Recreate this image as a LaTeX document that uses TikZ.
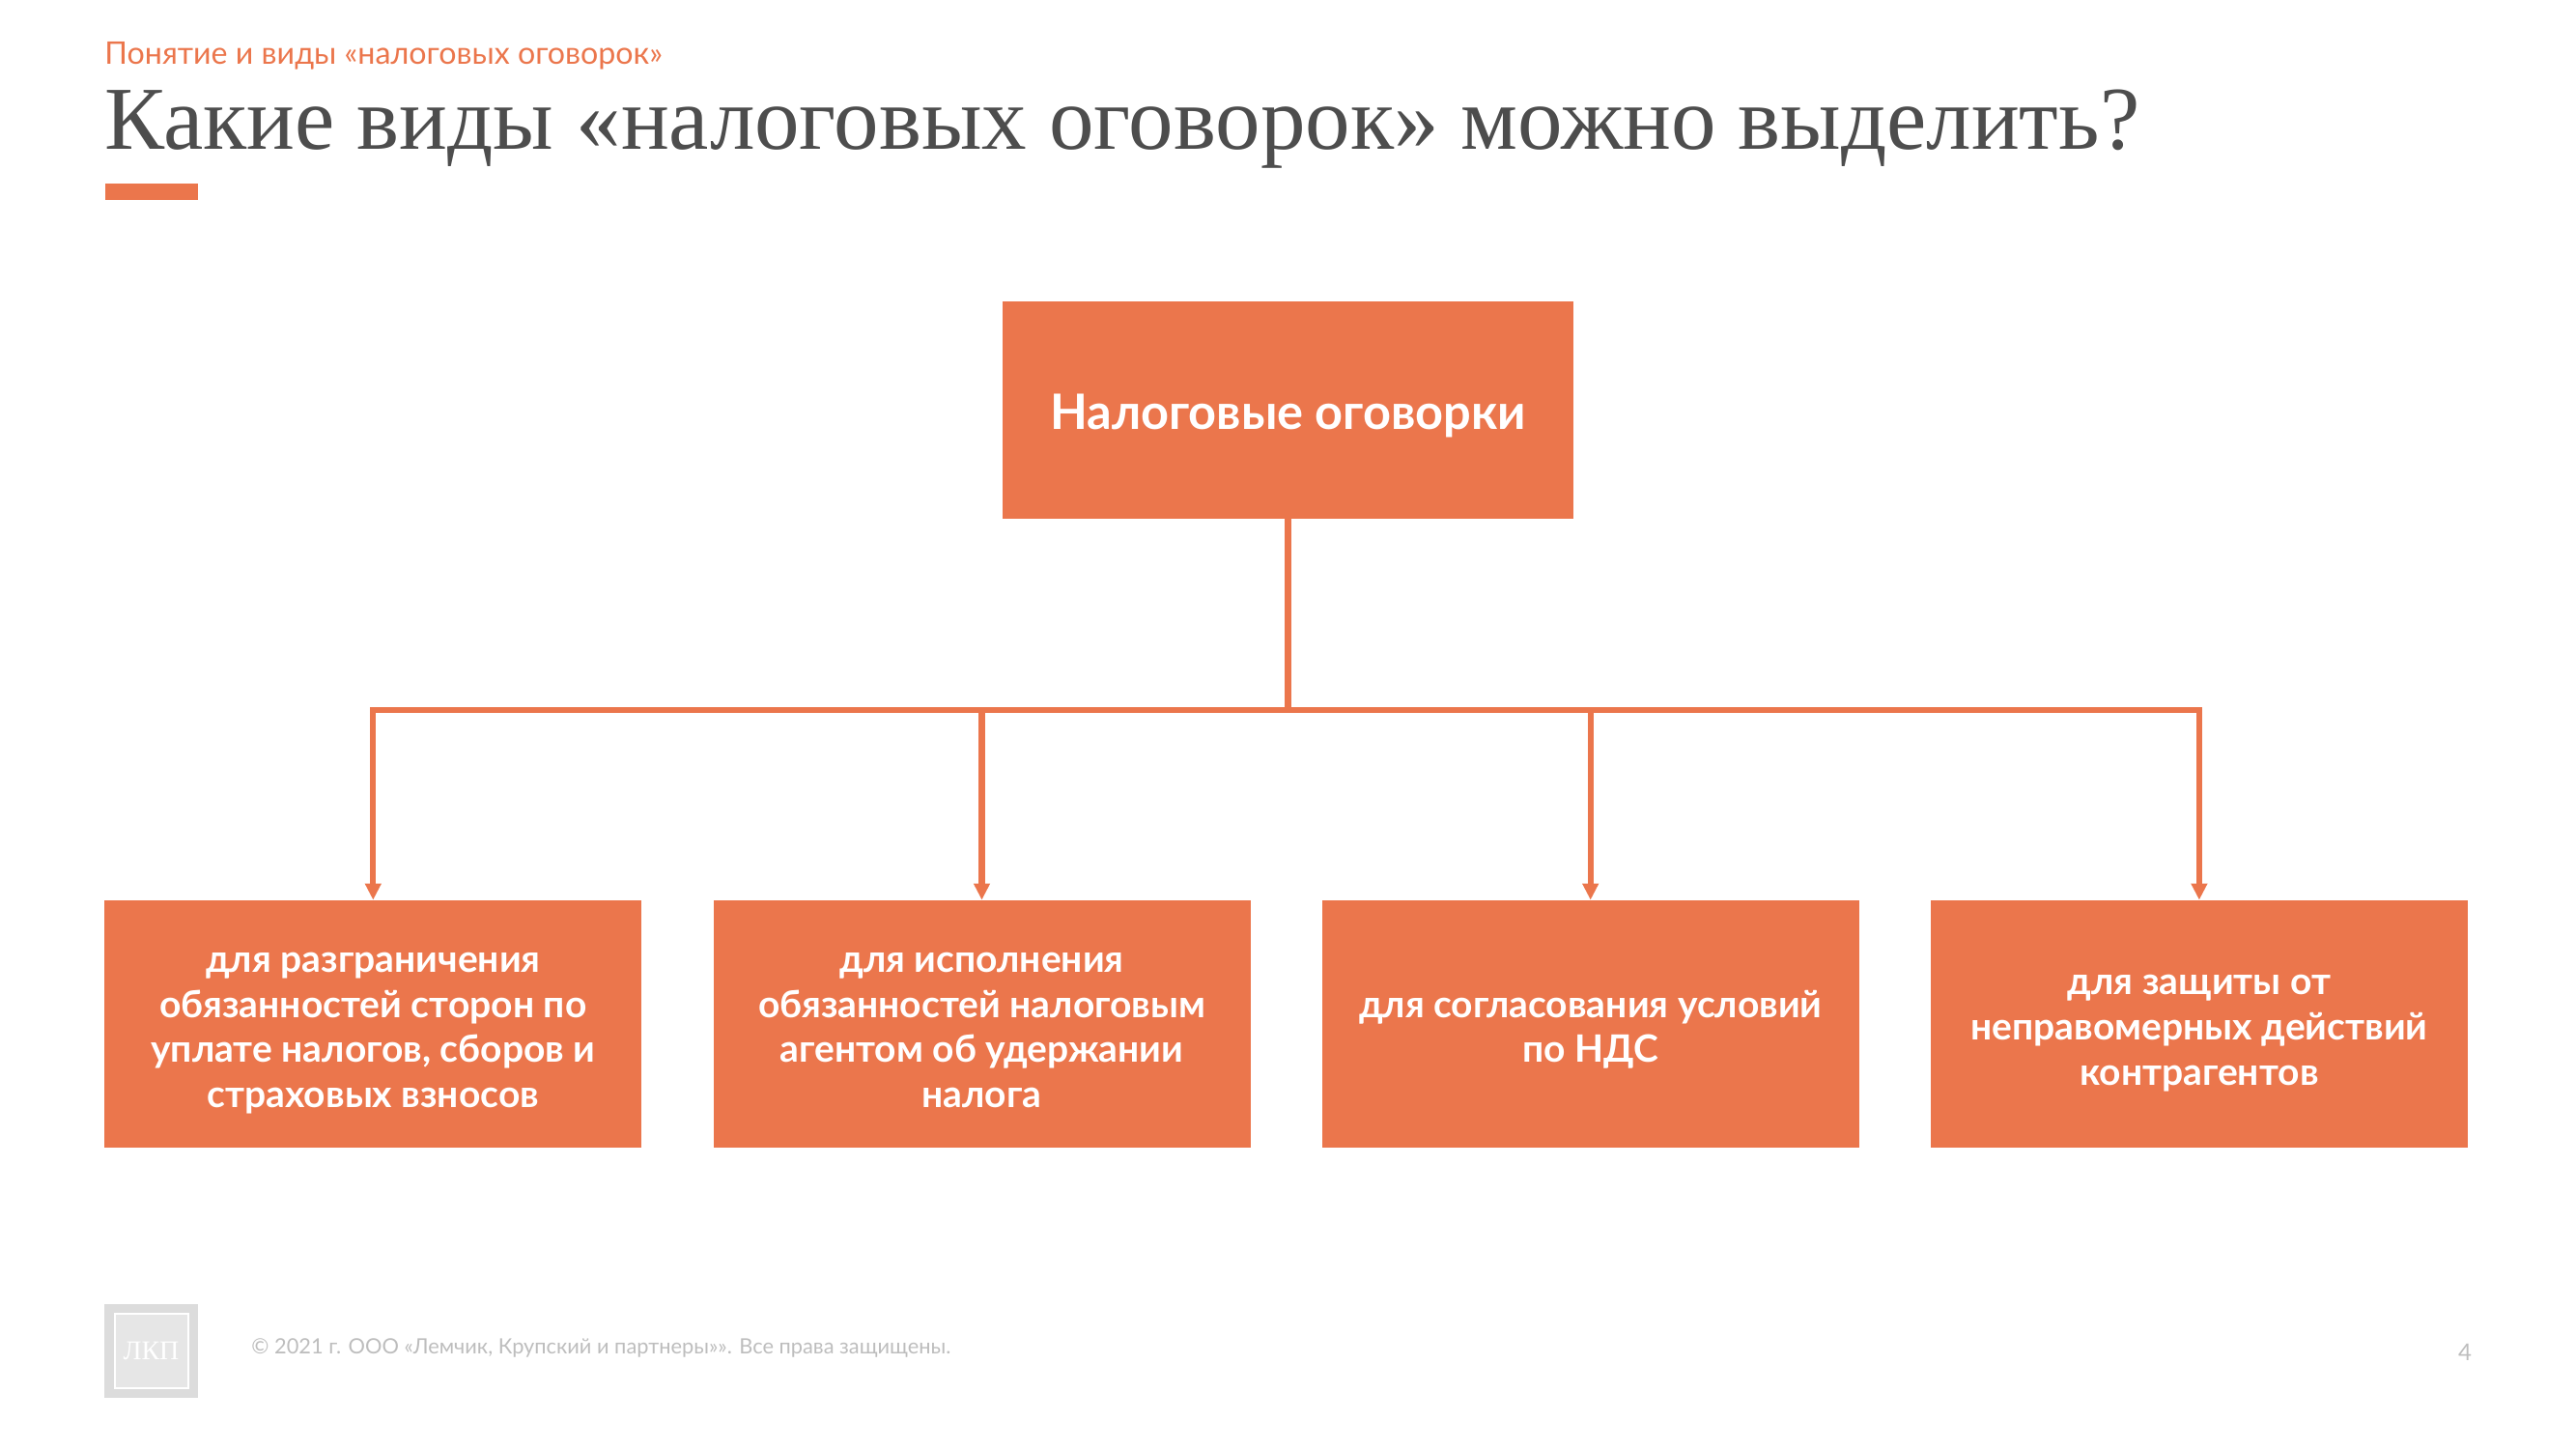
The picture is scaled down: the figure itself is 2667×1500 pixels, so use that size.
\documentclass[tikz,border=0pt]{standalone}
\usepackage{fontspec}
\setmainfont{Lato}
\newfontfamily\titlefont{Liberation Serif}
\usetikzlibrary{positioning,arrows.meta}
\definecolor{accent}{HTML}{EB764C}
\definecolor{titlegray}{HTML}{4D4D4D}
\definecolor{logogray}{HTML}{DCDCDC}
\definecolor{footgray}{HTML}{BDBDBD}
\newcommand{\leaftext}[1]{\rule{0pt}{22pt}#1\rule[-5.5pt]{0pt}{5.5pt}}
\tikzset{
	leafbox/.style={
			fill=accent,
			text=white,
			inner sep=0pt,
			align=center,
			minimum width=278pt,
			minimum height=128pt,
			font=\bfseries\fontsize{19.5}{23.35}\selectfont,
		},
	link/.style={draw=accent,line width=3.1pt},
}
\begin{document}
\begin{tikzpicture}[
				x=0.5pt,y=-0.5pt,
				every node/.style={anchor=center},]
			\useasboundingbox (0,0) rectangle (2667,1500);
			\node[anchor=west,inner sep=0pt,text=accent,font=\fontsize{16.1}{20}\selectfont] (section) at (108,58) {Понятие и виды «налоговых оговорок»};
			\node[anchor=west,inner sep=0pt,text=titlegray,font=\titlefont\fontsize{46.5}{55}\selectfont] (heading) at (108,134) {Какие виды «налоговых оговорок» можно выделить?};
			\node[fill=accent,inner sep=0pt,minimum width=48pt,minimum height=8.5pt] (bar) at (156.5,198) {};
			% boxes
			\node[leafbox,minimum width=295.5pt,minimum height=112.5pt,font=\bfseries\fontsize{25.25}{30}\selectfont] (root) at (1333.5,424.5) {\rule{0pt}{26pt}\rule[-6pt]{0pt}{6pt}Налоговые оговорки};
			\node[leafbox] (a) at (386.3,1060) {\leaftext{для разграничения\\обязанностей сторон по\\уплате налогов, сборов и\\страховых взносов}};
			\node[leafbox,right=36.7pt of a] (b) {\leaftext{для исполнения\\обязанностей налоговым\\агентом об удержании\\налога}};
			\node[leafbox,right=36.7pt of b] (c) {\leaftext{для согласования условий\\по НДС}};
			\node[leafbox,right=36.7pt of c] (d) {\leaftext{для защиты от\\неправомерных действий\\контрагентов}};
			% connectors
			\coordinate (bus) at (root |- 0,735);
			\draw[link] (root.south) -- (bus);
			\foreach \n in {a,b,c,d} {
					\draw[link,-{Triangle[length=8.5pt,width=8pt]}] (bus) -| (\n.north);
				}
			% footer
			\node[fill=logogray,inner sep=0pt,minimum width=48.5pt,minimum height=48.5pt] (logo) at (156.5,1398.5) {};
			\node[draw=white,line width=1pt,fill=logogray!70,inner sep=0pt,minimum width=38pt,minimum height=38.5pt,text=white,font=\titlefont\fontsize{14}{16}\selectfont] (logotext) at (logo) {ЛКП};
			\node[anchor=west,inner sep=0pt,text=footgray,font=\fontsize{10.9}{14}\selectfont] (rights) at (260,1395) {© 2021 г. ООО «Лемчик, Крупский и партнеры»». Все права защищены.};
			\node[inner sep=0pt,text=footgray,font=\fontsize{12}{14}\selectfont] (page) at (2552,1400) {4};
		\end{tikzpicture}
\end{document}
